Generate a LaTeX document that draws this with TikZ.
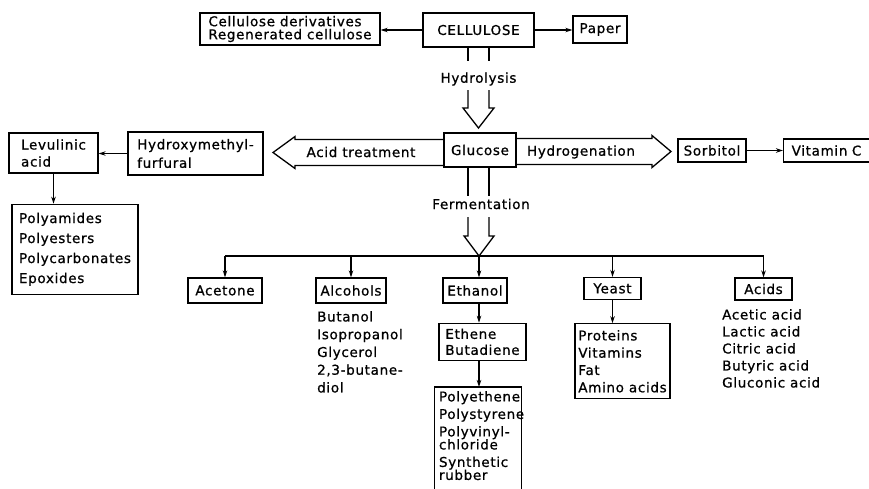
\documentclass[tikz,border=0pt]{standalone}
\usepackage{fontspec}
\setmainfont{DejaVu Sans}[LetterSpace=5,FakeBold=0.8]
\usepackage{tikz}
\usetikzlibrary{shapes,arrows.meta,positioning}
\tikzstyle{box} = [rectangle,draw=black,line width=1.3pt,inner sep=3pt,align=left]
\tikzstyle{mainbox} = [box,line width=2.6pt]
\tikzstyle{plain} = [inner sep=0pt,align=left,anchor=north west]
\tikzstyle{line} = [line width=1.3pt]
\tikzstyle{hollow} = [line width=1.3pt,line join=miter]
\tikzstyle{arrow} = [line width=1.3pt,-{Stealth[length=7pt,width=4.5pt]}]

\begin{document}
\begin{tikzpicture}[x=1pt,y=-1pt,font=\fontsize{13.5}{17}\selectfont]
\clip (0,0) rectangle (869,488);

% cellulose and its direct products
\node (cellulose) [mainbox,minimum width=111pt,minimum height=34pt] at (478.5,30) {CELLULOSE};
\node (deriv) [box,minimum width=180pt,minimum height=30pt,font=\fontsize{13.5}{13}\selectfont] at (290,29) {Cellulose derivatives\\Regenerated cellulose};
\node (paper) [box,minimum width=54pt,minimum height=27pt] at (600,29.5) {Paper};

\draw [arrow] (cellulose.west) -- (cellulose.west -| deriv.east);
\draw [arrow] (cellulose.east) -- (cellulose.east -| paper.west);

% hydrolysis
\node (hydrolysis) at (478.5,79) {Hydrolysis};
\draw [line] (468,47) -- (468,61);
\draw [line] (489,47) -- (489,61);
\draw [hollow] (468,90) -- (468,108) -- (463,108) -- (478.5,128) -- (494,108) -- (489,108) -- (489,90);

\node (glucose) [box,minimum width=72pt,minimum height=34pt] at (480,150) {Glucose};

% acid treatment branch
\draw [hollow] (444,139.5) -- (295,139.5) -- (295,136.5) -- (273,152.5) -- (295,168.5) -- (295,165.5) -- (444,165.5);
\node (acidtreat) at (361,152) {Acid treatment};
\node (hmf) [box,minimum width=135pt,minimum height=43pt,font=\fontsize{13.5}{18.5}\selectfont] at (195.5,153.5) {Hydroxymethyl-\\furfural};
\node (levulinic) [box,minimum width=89pt,minimum height=40pt] at (53.5,153) {Levulinic\\acid};
\node (polymers) [box,minimum width=126pt,minimum height=90pt,font=\fontsize{13.5}{20}\selectfont,below=30pt of levulinic,xshift=21.5pt] {Polyamides\\Polyesters\\Polycarbonates\\Epoxides};

\draw [arrow] (hmf.west) -- (hmf.west -| levulinic.east);
\draw [arrow] (levulinic.south) -- (levulinic.south |- polymers.north);

% hydrogenation branch
\draw [hollow] (516,138.5) -- (652,138.5) -- (652,135.5) -- (671,151.5) -- (652,167.5) -- (652,164.5) -- (516,164.5);
\node (hydrogen) at (581,152) {Hydrogenation};
\node (sorbitol) [box,minimum width=68pt,minimum height=23pt] at (712,150.5) {Sorbitol};
\node (vitaminc) [box,anchor=west,text width=100pt,inner xsep=8pt,minimum height=23pt] at (783,150.5) {Vitamin C};

\draw [arrow] (sorbitol.east) -- (vitaminc.west);

% fermentation
\node (fermentation) at (481,204) {Fermentation};
\draw [line] (468,167) -- (468,196);
\draw [line] (489,167) -- (489,196);
\draw [hollow] (468,217) -- (468,236) -- (464,236) -- (479,256) -- (494,236) -- (489,236) -- (489,217);
\coordinate (ferm) at (479,256);

\node (acetone) [box,minimum width=74pt,minimum height=25pt] at (225,290.5) {Acetone};
\node (alcohols) [box,minimum width=70pt,minimum height=25pt] at (351,290.5) {Alcohols};
\node (ethanol) [box,minimum width=64pt,minimum height=25pt] at (475,290.5) {Ethanol};
\node (yeast) [box,minimum width=57pt,minimum height=22pt] at (612.5,288.5) {Yeast};
\node (acids) [box,minimum width=57pt,minimum height=22pt] at (763.5,289) {Acids};

\draw [line] (acetone.north |- ferm) -- (acids.north |- ferm);
\draw [arrow] (acetone.north |- ferm) -- (acetone);
\draw [arrow] (alcohols.north |- ferm) -- (alcohols);
\draw [arrow] (ferm) -- (ferm |- ethanol.north);
\draw [arrow] (yeast.north |- ferm) -- (yeast);
\draw [arrow] (acids.north |- ferm) -- (acids);

\node (alcohollist) [plain,font=\fontsize{13.5}{17.75}\selectfont] at (317,311) {Butanol\\Isopropanol\\Glycerol\\2,3-butane-\\diol};

\node (ethene) [box,minimum width=87pt,minimum height=37pt,font=\fontsize{13.5}{16}\selectfont,below=19pt of ethanol,xshift=7.5pt] {Ethene\\Butadiene};
\node (polyeth) [inner xsep=4pt,inner ysep=4pt,text width=78pt,align=left,font=\fontsize{13.5}{17.5}\selectfont,below=26pt of ethene,xshift=-4.5pt] {Polyethene\\Polystyrene\\Polyvinyl-\\[-4.5pt]chloride\\Synthetic\\[-4.5pt]rubber};
\draw [line] ([yshift=-40pt]polyeth.south west) |- (polyeth.north east) -- ([yshift=-40pt]polyeth.south east);

\draw [arrow] (ferm |- ethanol.south) -- (ferm |- ethene.north);
\draw [arrow] (ferm |- ethene.south) -- (ferm |- polyeth.north);

\node (proteins) [box,minimum width=95pt,minimum height=75pt,font=\fontsize{13.5}{17.3}\selectfont,below=23pt of yeast,xshift=10pt] {Proteins\\Vitamins\\Fat\\Amino acids};
\draw [arrow] (yeast.south) -- (yeast.south |- proteins.north);

\node (acidlist) [plain] at (722,309) {Acetic acid\\Lactic acid\\Citric acid\\Butyric acid\\Gluconic acid};
\end{tikzpicture}
\end{document}
